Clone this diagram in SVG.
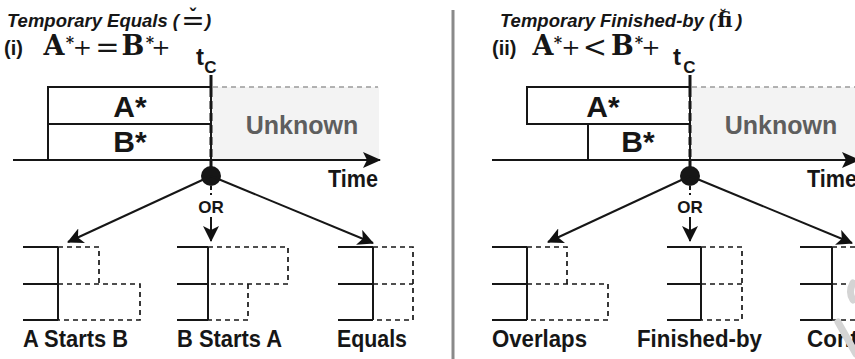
<svg xmlns="http://www.w3.org/2000/svg" width="855" height="359" viewBox="0 0 855 359">
  <defs>
    <marker id="head" viewBox="0 0 16 16" refX="15" refY="8" markerWidth="16" markerHeight="16" markerUnits="userSpaceOnUse" orient="auto">
      <path d="M0,0 L16,8 L0,16 L4,8 Z" fill="#111"/>
    </marker>
    <marker id="axisHead" viewBox="0 0 18 16" refX="17" refY="8" markerWidth="18" markerHeight="16" markerUnits="userSpaceOnUse" orient="auto">
      <path d="M0,0 L18,8 L0,16 L4,8 Z" fill="#111"/>
    </marker>
    <style>
      .sans { font-family: "Liberation Sans", Arial, sans-serif; font-weight: bold; fill: #161616; }
      .title { font-family: "Liberation Sans", Arial, sans-serif; font-weight: bold; font-style: italic; font-size: 18.5px; fill: #161616; }
      .math { font-family: "DejaVu Serif", "Liberation Serif", serif; font-weight: bold; fill: #161616; text-anchor: middle; }
      .op { font-weight: normal; }
      .big { font-size: 30px; text-anchor: middle; }
      .unk { font-size: 25px; text-anchor: middle; fill: #5e5e5e; }
      .lbl { font-size: 24px; }
      .box { fill: #fff; stroke: #161616; stroke-width: 2; }
      .solid { stroke: #161616; stroke-width: 2; fill: none; }
      .dash { stroke: #161616; stroke-width: 1.7; fill: none; stroke-dasharray: 5 4; }
      .tc { stroke: #161616; stroke-width: 3; fill: none; }
      .tcdash { stroke: #161616; stroke-width: 3; fill: none; stroke-dasharray: 8 4; }
      .unknown { fill: #f3f3f3; }
      .gdash { stroke: #9a9a9a; stroke-width: 1.5; stroke-dasharray: 5 4; fill: none; }
      .conn { stroke: #161616; stroke-width: 2; fill: none; }
    </style>
  </defs>

  <rect width="855" height="359" fill="#fff"/>

  <!-- panel divider -->
  <line x1="453" y1="10" x2="453" y2="359" stroke="#8a8a8a" stroke-width="3"/>

  <!-- ===== Panel (i): Temporary Equals ===== -->
  <g id="title-equals">
    <text class="title" x="7" y="27">Temporary Equals (</text>
    <text class="math op" x="193" y="30" font-size="28">=</text>
    <text x="193" y="23" font-family="DejaVu Sans, sans-serif" font-weight="bold" font-size="19" text-anchor="middle" fill="#161616">ˇ</text>
    <text class="title" x="205" y="27">)</text>
  </g>

  <g id="formula-i">
    <text class="sans" x="4" y="55" font-size="20">(i)</text>
    <text class="math" x="54" y="55" font-size="27">A</text>
    <text class="math" x="70" y="48" font-size="16">*</text>
    <text class="math op" x="82.5" y="55" font-size="23">+</text>
    <text class="math op" x="107.5" y="57" font-size="29">=</text>
    <text class="math" x="133" y="55" font-size="27">B</text>
    <text class="math" x="150" y="48" font-size="16">*</text>
    <text class="math op" x="161" y="55" font-size="23">+</text>
  </g>

  <g id="tc-i">
    <text class="sans" x="200" y="65" font-size="24" text-anchor="middle">t</text>
    <text class="sans" x="210.5" y="73" font-size="17" text-anchor="middle">C</text>
  </g>

  <g id="timeline-i">
    <rect class="unknown" x="212" y="87" width="167" height="73"/>
    <line class="gdash" x1="213" y1="87" x2="378" y2="87"/>
    <text class="sans unk" x="302" y="134">Unknown</text>
    <rect class="box" x="48" y="87" width="163" height="37"/>
    <rect class="box" x="48" y="124" width="163" height="36"/>
    <text class="sans big" x="130" y="117">A*</text>
    <text class="sans big" x="130" y="152">B*</text>
    <line class="conn" x1="13" y1="160" x2="380" y2="160" stroke-width="2.5" marker-end="url(#axisHead)"/>
    <text class="sans" x="328" y="187" font-size="23" textLength="50" lengthAdjust="spacingAndGlyphs">Time</text>
    <line class="tc" x1="211" y1="75" x2="211" y2="89"/>
    <line class="tcdash" x1="211" y1="89" x2="211" y2="168"/>
    <circle cx="211" cy="176" r="10" fill="#161616"/>
  </g>

  <g id="branch-i">
    <line class="conn" x1="211" y1="176" x2="68" y2="242" marker-end="url(#head)"/>
    <line class="conn" x1="211" y1="176" x2="373" y2="243" marker-end="url(#head)"/>
    <line class="conn" x1="211" y1="186" x2="211" y2="195" stroke-dasharray="4 3"/>
    <text class="sans" x="211" y="212.5" font-size="17" text-anchor="middle">OR</text>
    <line class="conn" x1="211" y1="217" x2="211" y2="241" marker-end="url(#head)"/>
  </g>

  <g id="a-starts-b">
    <path class="solid" d="M23,247 H58 M23,284 H58 M23,320 H58 M58,247 V320"/>
    <path class="dash" d="M58,247 H99 V284 M58,284 H140 V320 H58"/>
    <text class="sans lbl" x="23" y="347" textLength="105" lengthAdjust="spacingAndGlyphs">A Starts B</text>
  </g>

  <g id="b-starts-a">
    <path class="solid" d="M177,247 H208 M177,284 H208 M177,320 H208 M208,247 V320"/>
    <path class="dash" d="M208,247 H288 V284 H208 M248,284 V320 H208"/>
    <text class="sans lbl" x="177" y="347" textLength="105" lengthAdjust="spacingAndGlyphs">B Starts A</text>
  </g>

  <g id="equals">
    <path class="solid" d="M338,247 H373 M338,284 H373 M338,320 H373 M373,247 V320"/>
    <path class="dash" d="M373,247 H413 V320 H373 M373,284 H413"/>
    <text class="sans lbl" x="337" y="347" textLength="70" lengthAdjust="spacingAndGlyphs">Equals</text>
  </g>

  <!-- ===== Panel (ii): Temporary Finished-by ===== -->
  <g id="title-finished-by">
    <text class="title" x="500" y="27" font-size="18">Temporary Finished-by (</text>
    <text class="math" x="725" y="27" font-size="21">fi</text>
    <text x="723" y="21" font-family="DejaVu Sans, sans-serif" font-weight="bold" font-size="16" text-anchor="middle" fill="#161616">˘</text>
    <text class="title" x="736" y="27">)</text>
  </g>

  <g id="formula-ii">
    <text class="sans" x="492" y="55" font-size="20">(ii)</text>
    <text class="math" x="543" y="55" font-size="27">A</text>
    <text class="math" x="558" y="48" font-size="16">*</text>
    <text class="math op" x="571" y="55" font-size="23">+</text>
    <text class="math op" x="595" y="57" font-size="29">&lt;</text>
    <text class="math" x="622.5" y="55" font-size="27">B</text>
    <text class="math" x="639" y="48" font-size="16">*</text>
    <text class="math op" x="651" y="55" font-size="23">+</text>
  </g>

  <g id="tc-ii">
    <text class="sans" x="677" y="65" font-size="24" text-anchor="middle">t</text>
    <text class="sans" x="689.5" y="73" font-size="17" text-anchor="middle">C</text>
  </g>

  <g id="timeline-ii">
    <rect class="unknown" x="691" y="87" width="170" height="73"/>
    <line class="gdash" x1="692" y1="87" x2="860" y2="87"/>
    <text class="sans unk" x="781" y="134">Unknown</text>
    <rect class="box" x="527" y="87" width="163" height="37"/>
    <rect class="box" x="588" y="124" width="102" height="36"/>
    <text class="sans big" x="603" y="117">A*</text>
    <text class="sans big" x="638" y="152">B*</text>
    <line class="conn" x1="492" y1="160" x2="859" y2="160" stroke-width="2.5" marker-end="url(#axisHead)"/>
    <text class="sans" x="807" y="187" font-size="23" textLength="50" lengthAdjust="spacingAndGlyphs">Time</text>
    <line class="tc" x1="690" y1="75" x2="690" y2="89"/>
    <line class="tcdash" x1="690" y1="89" x2="690" y2="168"/>
    <circle cx="690" cy="176" r="10" fill="#161616"/>
  </g>

  <g id="branch-ii">
    <line class="conn" x1="690" y1="176" x2="548" y2="242" marker-end="url(#head)"/>
    <line class="conn" x1="690" y1="176" x2="852" y2="243" marker-end="url(#head)"/>
    <line class="conn" x1="690" y1="186" x2="690" y2="195" stroke-dasharray="4 3"/>
    <text class="sans" x="690" y="212.5" font-size="17" text-anchor="middle">OR</text>
    <line class="conn" x1="690" y1="217" x2="690" y2="241" marker-end="url(#head)"/>
  </g>

  <g id="overlaps">
    <path class="solid" d="M492,247 H527 M492,284 H527 M492,320 H527 M527,247 V320"/>
    <path class="dash" d="M527,247 H567 V284 M527,284 H608 V320 H527"/>
    <text class="sans lbl" x="492" y="347" textLength="95" lengthAdjust="spacingAndGlyphs">Overlaps</text>
  </g>

  <g id="finished-by">
    <path class="solid" d="M667,247 H701 M667,284 H701 M667,320 H701 M701,247 V320"/>
    <path class="dash" d="M701,247 H742 V320 H701 M701,284 H742"/>
    <text class="sans lbl" x="637" y="347" textLength="125" lengthAdjust="spacingAndGlyphs">Finished-by</text>
  </g>

  <g id="contains">
    <path class="solid" d="M800,247 H832 M800,284 H832 M800,320 H832 M832,247 V320"/>
    <path class="dash" d="M832,247 H870 M832,284 H870 M832,320 H870"/>
    <text class="sans lbl" x="807" y="347" textLength="96" lengthAdjust="spacingAndGlyphs">Contains</text>
  </g>

  <!-- faint mark in the lower right corner -->
  <g fill="none" stroke="#d4d4d4" stroke-linecap="round">
    <path d="M838,322 L856,354" stroke-width="7"/>
    <path d="M853,283 Q848,292 853,300" stroke-width="7"/>
  </g>
</svg>
